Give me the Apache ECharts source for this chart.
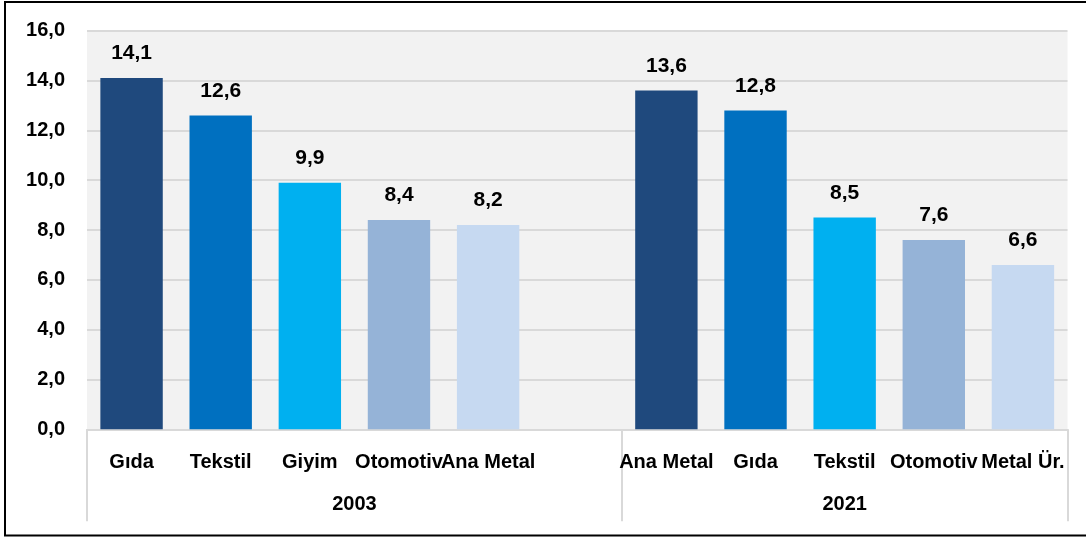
<!DOCTYPE html>
<html>
<head>
<meta charset="utf-8">
<script src="https://cdn.jsdelivr.net/npm/echarts@6/dist/echarts.min.js"></script>
<style>
html,body{margin:0;padding:0;background:#fff;}
#c{width:1086px;height:538px;}
</style>
</head>
<body>
<div id="c"></div>
<script>
// ---- data ----
var categories = ['Gıda','Tekstil','Giyim','Otomotiv','Ana Metal','', 'Ana Metal','Gıda','Tekstil','Otomotiv','Metal Ür.'];
var values = [14.1, 12.6, 9.9, 8.4, 8.2, null, 13.6, 12.8, 8.5, 7.6, 6.6];
var groupNames = ['2003', '2021'];
var groupSizes = [6, 5];
var yTicks = [0, 2, 4, 6, 8, 10, 12, 14, 16];

// ---- styling ----
var barColors = ['#1F497D', '#0070C0', '#00B0F0', '#95B3D7', '#C6D9F1'];
var FONT = '"Liberation Sans", Arial, sans-serif';

var groupStarts = [], groupCenters = [], boundaries = [0];
var acc = 0;
groupSizes.forEach(function (s) {
  groupStarts.push(acc);
  groupCenters.push(acc + s / 2);
  acc += s;
  boundaries.push(acc);
});

function groupOf(i) {
  for (var g = 0; g < groupSizes.length; g++) {
    if (i >= groupStarts[g] && i < groupStarts[g] + groupSizes[g]) return g;
  }
  return 0;
}
function fmt(v) { return v.toFixed(1).replace('.', ','); }

var chart = echarts.init(document.getElementById('c'));
chart.setOption({
  animation: false,
  backgroundColor: '#ffffff',
  grid: {
    left: 87, right: 18.5, top: 30.7, bottom: 108.7,
    show: true, backgroundColor: '#f2f2f2', borderWidth: 0
  },
  xAxis: [{
    type: 'category',
    data: categories,
    axisLine: { show: true, lineStyle: { color: '#d9d9d9', width: 2 } },
    axisTick: { show: false },
    axisLabel: {
      interval: 0, margin: 23, color: '#000', fontFamily: FONT,
      fontWeight: 'bold', fontSize: 20, lineHeight: 20
    }
  }, {
    type: 'value',
    position: 'bottom',
    min: 0, max: categories.length,
    axisLine: { show: false },
    splitLine: { show: false },
    axisTick: {
      show: true, customValues: boundaries, length: 92, inside: false,
      lineStyle: { color: '#d9d9d9', width: 2 }
    },
    axisLabel: {
      customValues: groupCenters, margin: 65, color: '#000', fontFamily: FONT,
      fontWeight: 'bold', fontSize: 20, lineHeight: 20,
      formatter: function (v) {
        for (var g = 0; g < groupCenters.length; g++) {
          if (Math.abs(groupCenters[g] - v) < 1e-6) return groupNames[g];
        }
        return '';
      }
    }
  }],
  yAxis: {
    type: 'value',
    min: yTicks[0], max: yTicks[yTicks.length - 1], interval: yTicks[1] - yTicks[0],
    axisLine: { show: false },
    axisTick: { show: false },
    splitLine: { show: true, lineStyle: { color: '#d9d9d9', width: 2 } },
    axisLabel: {
      margin: 22, color: '#000', fontFamily: FONT, fontWeight: 'bold', fontSize: 20,
      formatter: function (v) { return fmt(v); }
    }
  },
  series: [{
    type: 'bar',
    xAxisIndex: 0,
    data: values,
    barWidth: '70%',
    itemStyle: {
      color: function (p) {
        var g = groupOf(p.dataIndex);
        return barColors[(p.dataIndex - groupStarts[g]) % barColors.length];
      }
    },
    label: {
      show: true, position: 'top', distance: 14, color: '#000',
      fontFamily: FONT, fontWeight: 'bold', fontSize: 21,
      formatter: function (p) { return p.value == null ? '' : fmt(p.value); }
    }
  }],
  graphic: [{
    type: 'rect',
    shape: { x: 5, y: 2, width: 1200, height: 533.5 },
    style: { fill: 'none', stroke: '#000', lineWidth: 2 },
    silent: true
  }]
});
</script>
</body>
</html>
